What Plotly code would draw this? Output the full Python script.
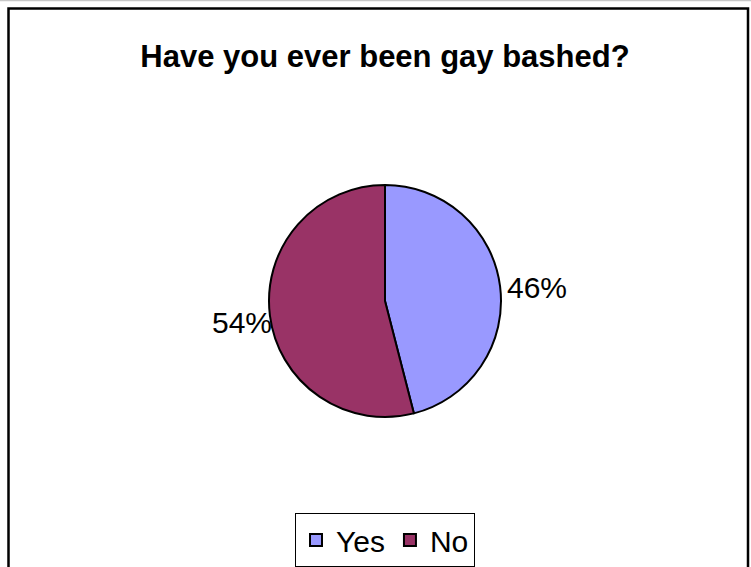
import plotly.graph_objects as go

# Survey answers
labels = ["Yes", "No"]
shares = [46, 54]
colors = ["#9999FF", "#993366"]

W, H = 751, 567
FONT = "Liberation Sans, Arial, sans-serif"

# pie geometry in pixels (centre and radius)
cx, cy, r = 385, 301, 116

fig = go.Figure(
    go.Pie(
        labels=labels,
        values=shares,
        sort=False,
        direction="clockwise",
        rotation=0,
        marker=dict(colors=colors, line=dict(color="black", width=2)),
        textinfo="none",
        hoverinfo="label+percent",
        domain=dict(
            x=[(cx - r) / W, (cx + r) / W],
            y=[1 - (cy + r) / H, 1 - (cy - r) / H],
        ),
    )
)

# percentage labels sitting just outside the rim, next to each slice
total = sum(shares)
label_spots = {
    "Yes": dict(x=cx + r + 4, y=287, xanchor="left"),
    "No": dict(x=cx - r + 5, y=322, xanchor="right"),
}
for name, val in zip(labels, shares):
    spot = label_spots[name]
    fig.add_annotation(
        text=f"{round(100 * val / total)}%",
        xref="paper", yref="paper",
        x=spot["x"] / W, y=1 - spot["y"] / H,
        xanchor=spot["xanchor"], yanchor="middle",
        showarrow=False,
        font=dict(family=FONT, size=30, color="black"),
    )

fig.update_layout(
    width=W,
    height=H,
    margin=dict(l=0, r=0, t=0, b=0),
    paper_bgcolor="white",
    plot_bgcolor="white",
    font=dict(family=FONT, color="black"),
    title=dict(
        text="<b>Have you ever been gay bashed?</b>",
        x=385 / W,
        xanchor="center",
        y=1 - 56 / H,
        yanchor="middle",
        font=dict(family=FONT, size=31, color="black"),
    ),
    showlegend=True,
    legend=dict(
        orientation="h",
        x=385 / W,
        xanchor="center",
        y=1 - 540 / H,
        yanchor="middle",
        font=dict(family=FONT, size=30, color="black"),
        bordercolor="black",
        borderwidth=1,
        bgcolor="white",
        itemwidth=30,
        tracegroupgap=0,
    ),
    shapes=[
        # outer chart frame
        dict(
            type="rect", xref="paper", yref="paper",
            x0=8.5 / W, x1=748 / W, y0=-0.2, y1=1 - 8.5 / H,
            line=dict(color="black", width=2.5), fillcolor="rgba(0,0,0,0)",
        ),
        dict(
            type="line", xref="paper", yref="paper",
            x0=0, x1=1, y0=1 - 0.5 / H, y1=1 - 0.5 / H,
            line=dict(color="#c8c8c8", width=1.5),
        ),
    ],
)

fig.write_html("out.html")
